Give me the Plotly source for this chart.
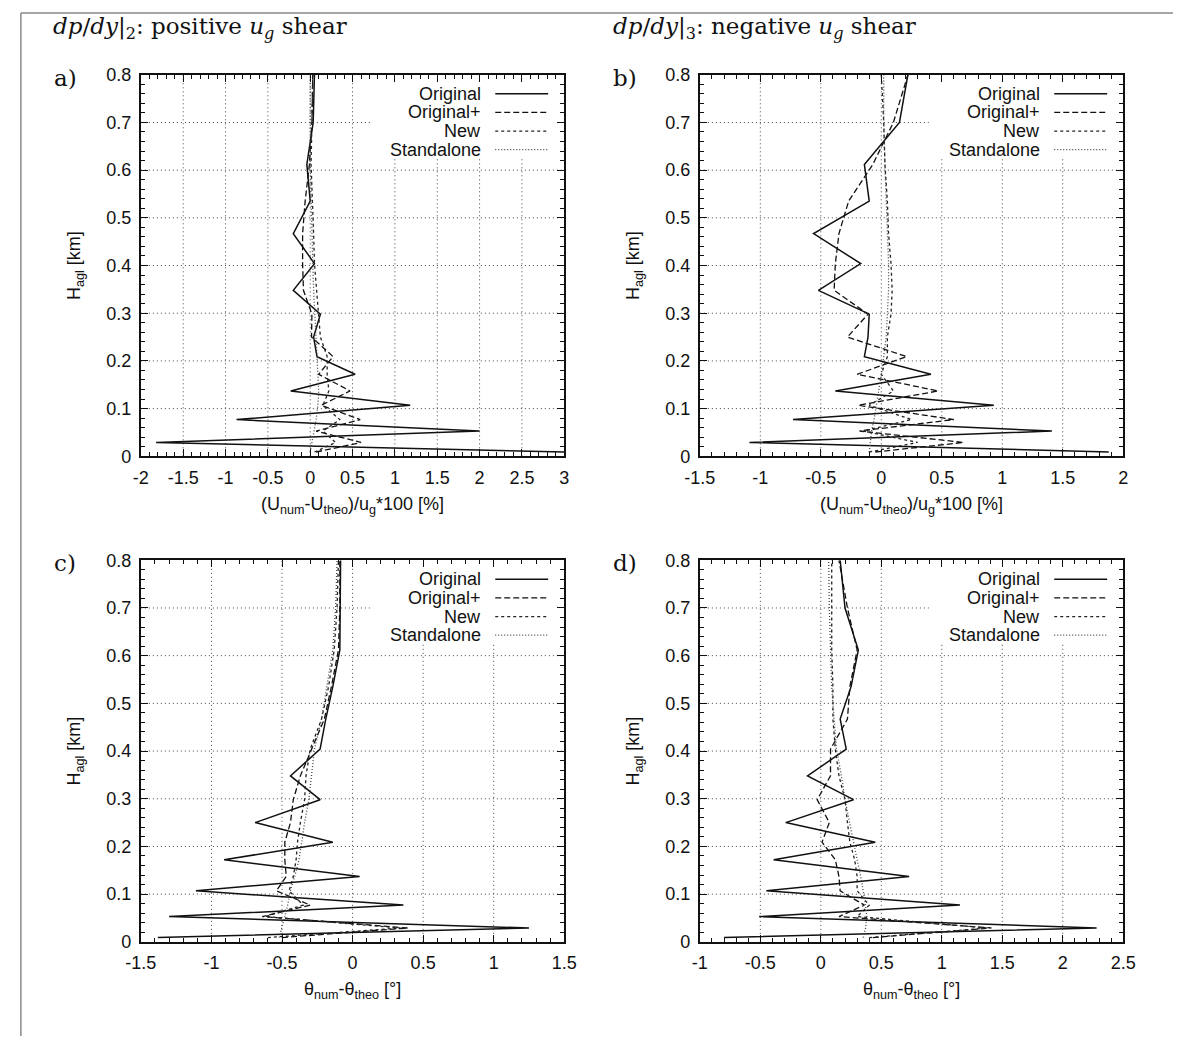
import plotly.graph_objects as go

# ---------------- data ----------------
heights = [0.009, 0.029, 0.053, 0.077, 0.107, 0.137, 0.172, 0.209, 0.25, 0.298,
           0.348, 0.404, 0.467, 0.535, 0.612, 0.70, 0.80]

series_names = ["Original", "Original+", "New", "Standalone"]

# panel a: dp/dy|2, wind error (%)
a_original = [3.0, -1.82, 2.0, -0.87, 1.18, -0.23, 0.53, 0.08, 0.04, 0.12, -0.2, 0.05, -0.2, 0.0, -0.04, 0.035, 0.05]
a_origplus = [0.07, 0.6, 0.07, 0.59, 0.13, 0.47, 0.1, 0.27, 0.015, 0.02, -0.08, -0.09, -0.09, -0.06, -0.01, 0.02, 0.03]
a_new = [0.05, 0.3, 0.15, 0.35, 0.15, 0.22, 0.2, 0.2, 0.12, 0.1, 0.08, 0.05, 0.04, 0.03, 0.01, 0.02, 0.03]
a_standalone = [0.0, 0.02, 0.04, 0.07, 0.09, 0.1, 0.09, 0.08, 0.06, 0.05, 0.04, 0.03, 0.02, 0.01, 0.0, 0.0, 0.0]

# panel b: dp/dy|3, wind error (%)
b_original = [1.88, -1.09, 1.41, -0.73, 0.93, -0.38, 0.41, -0.14, -0.11, -0.1, -0.52, -0.17, -0.56, -0.1, -0.14, 0.15, 0.22]
b_origplus = [-0.05, 0.68, -0.18, 0.6, -0.19, 0.47, -0.2, 0.21, -0.28, -0.11, -0.39, -0.38, -0.35, -0.27, -0.07, 0.1, 0.22]
b_new = [-0.1, 0.3, -0.15, 0.25, -0.1, 0.1, 0.0, 0.05, 0.05, 0.08, 0.09, 0.08, 0.06, 0.05, 0.03, 0.02, 0.0]
b_standalone = [-0.1, -0.09, -0.08, -0.06, -0.04, -0.02, 0.0, 0.02, 0.04, 0.05, 0.06, 0.06, 0.05, 0.04, 0.03, 0.02, 0.02]

# panel c: dp/dy|2, potential temperature error (deg)
c_original = [-1.38, 1.25, -1.3, 0.36, -1.11, 0.05, -0.91, -0.14, -0.69, -0.23, -0.44, -0.23, -0.19, -0.14, -0.09, -0.09, -0.085]
c_origplus = [-0.5, 0.39, -0.64, -0.3, -0.54, -0.47, -0.48, -0.48, -0.44, -0.42, -0.37, -0.29, -0.2, -0.15, -0.1, -0.09, -0.09]
c_new = [-0.6, 0.34, -0.62, -0.35, -0.45, -0.42, -0.4, -0.39, -0.37, -0.34, -0.33, -0.3, -0.22, -0.17, -0.13, -0.11, -0.1]
c_standalone = [-0.52, -0.5, -0.48, -0.46, -0.44, -0.41, -0.38, -0.36, -0.34, -0.31, -0.29, -0.27, -0.22, -0.18, -0.14, -0.12, -0.11]

# panel d: dp/dy|3, potential temperature error (deg)
d_original = [-0.8, 2.28, -0.51, 1.15, -0.45, 0.73, -0.39, 0.45, -0.29, 0.27, -0.11, 0.21, 0.16, 0.25, 0.31, 0.2, 0.16]
d_origplus = [0.43, 1.41, 0.15, 0.36, 0.16, 0.15, 0.12, 0.01, 0.07, -0.03, 0.08, 0.08, 0.22, 0.24, 0.3, 0.22, 0.15]
d_new = [0.4, 1.38, 0.3, 0.4, 0.3, 0.3, 0.28, 0.24, 0.22, 0.2, 0.15, 0.12, 0.1, 0.1, 0.09, 0.09, 0.09]
d_standalone = [0.35, 0.37, 0.38, 0.37, 0.35, 0.33, 0.3, 0.27, 0.24, 0.2, 0.17, 0.13, 0.11, 0.09, 0.08, 0.07, 0.065]

# tick labels
a_xticks = [-2, -1.5, -1, -0.5, 0, 0.5, 1, 1.5, 2, 2.5, 3]
a_xticktext = ["-2", "-1.5", "-1", "-0.5", "0", "0.5", "1", "1.5", "2", "2.5", "3"]
b_xticks = [-1.5, -1, -0.5, 0, 0.5, 1, 1.5, 2]
b_xticktext = ["-1.5", "-1", "-0.5", "0", "0.5", "1", "1.5", "2"]
c_xticks = [-1.5, -1, -0.5, 0, 0.5, 1, 1.5]
c_xticktext = ["-1.5", "-1", "-0.5", "0", "0.5", "1", "1.5"]
d_xticks = [-1, -0.5, 0, 0.5, 1, 1.5, 2, 2.5]
d_xticktext = ["-1", "-0.5", "0", "0.5", "1", "1.5", "2", "2.5"]
yticks = [0, 0.1, 0.2, 0.3, 0.4, 0.5, 0.6, 0.7, 0.8]
yticktext = ["0", "0.1", "0.2", "0.3", "0.4", "0.5", "0.6", "0.7", "0.8"]

titles = ["<i>dp</i>/<i>dy</i>|<sub>2</sub>: positive <i>u<sub>g</sub></i> shear",
          "<i>dp</i>/<i>dy</i>|<sub>3</sub>: negative <i>u<sub>g</sub></i> shear"]
panel_letters = ["a)", "b)", "c)", "d)"]
ylabel = "H<sub>agl</sub> [km]"
xlabel_wind = "(U<sub>num</sub>-U<sub>theo</sub>)/u<sub>g</sub>*100 [%]"
xlabel_theta = "θ<sub>num</sub>-θ<sub>theo</sub> [°]"

# ---------------- layout geometry (page pixels) ----------------
W, H = 1186, 1046


def px(X):
    return X / W


def py(Y):
    return 1 - Y / H


col_px = [(128, 562), (701, 1135)]
row_px = [(66, 455), (561, 950)]

styles = [
    dict(color="#111111", width=1.5, dash="solid"),
    dict(color="#111111", width=1.3, dash="6px,3px"),
    dict(color="#222222", width=1.3, dash="3px,3px"),
    dict(color="#444444", width=1.3, dash="1px,2px"),
]

panels = [
    dict(data=[a_original, a_origplus, a_new, a_standalone], xr=[-2, 3], xt=a_xticks, xtt=a_xticktext, r=0, c=0, xl=xlabel_wind),
    dict(data=[b_original, b_origplus, b_new, b_standalone], xr=[-1.5, 2], xt=b_xticks, xtt=b_xticktext, r=0, c=1, xl=xlabel_wind),
    dict(data=[c_original, c_origplus, c_new, c_standalone], xr=[-1.5, 1.5], xt=c_xticks, xtt=c_xticktext, r=1, c=0, xl=xlabel_theta),
    dict(data=[d_original, d_origplus, d_new, d_standalone], xr=[-1, 2.5], xt=d_xticks, xtt=d_xticktext, r=1, c=1, xl=xlabel_theta),
]

sans = "Liberation Sans, Arial, sans-serif"
tickfont = dict(family=sans, size=18, color="#111111")
serif_title = dict(family="DejaVu Serif, serif", size=23, color="#111111")
serif_letter = dict(family="DejaVu Serif, serif", size=23, color="#111111")
grid_line = dict(color="#444444", width=1, dash="1px,3px")

fig = go.Figure()
layout = dict(width=W, height=H, margin=dict(l=0, r=0, t=0, b=0),
              paper_bgcolor="white", plot_bgcolor="white", showlegend=False)
shapes, annotations = [], []

for i, p in enumerate(panels):
    n = i + 1
    sx = "" if n == 1 else str(n)
    x0, x1 = col_px[p["c"]]
    y0, y1 = row_px[p["r"]]
    common = dict(showline=True, linecolor="#111111", linewidth=2, mirror="allticks",
                  ticks="inside", ticklen=7, tickwidth=1, tickcolor="#111111",
                  showgrid=False, zeroline=False, tickfont=tickfont, ticklabelstandoff=4)
    layout["xaxis" + sx] = dict(common, domain=[px(x0), px(x1)], range=p["xr"], anchor="y" + sx,
                                tickmode="array", tickvals=p["xt"], ticktext=p["xtt"],
                                minor=dict(dtick=0.1, ticks="inside", ticklen=4, tickcolor="#111111", showgrid=False))
    layout["yaxis" + sx] = dict(common, domain=[py(y1), py(y0)], range=[0, 0.8], anchor="x" + sx,
                                tickmode="array", tickvals=yticks, ticktext=yticktext,
                                minor=dict(dtick=0.02, ticks="inside", ticklen=4, tickcolor="#111111", showgrid=False))
    for name, vals, st in zip(series_names, p["data"], styles):
        fig.add_trace(go.Scatter(x=vals, y=heights, mode="lines", name=name, line=st,
                                 xaxis="x" + sx, yaxis="y" + sx))
    xd, yd = "x" + sx + " domain", "y" + sx + " domain"
    # dotted grid at the major ticks (drawn below the traces)
    for tv in p["xt"][1:-1]:
        shapes.append(dict(type="line", xref="x" + sx, yref=yd, x0=tv, x1=tv, y0=0, y1=1,
                           line=grid_line, layer="below"))
    for tv in yticks[1:-1]:
        shapes.append(dict(type="line", xref=xd, yref="y" + sx, x0=0, x1=1, y0=tv, y1=tv,
                           line=grid_line, layer="below"))
    # legend background box hides the grid
    shapes.append(dict(type="rect", xref=xd, yref=yd, x0=0.541, x1=1.0, y0=0.784, y1=1.0,
                       fillcolor="white", line=dict(width=0), layer="below"))
    for k, (name, st) in enumerate(zip(series_names, styles)):
        yy = 0.950 - k * 0.0488
        annotations.append(dict(text=name, xref=xd, yref=yd, x=0.809, y=yy, xanchor="right",
                                yanchor="middle", showarrow=False,
                                font=dict(family=sans, size=18, color="#111111")))
        shapes.append(dict(type="line", xref=xd, yref=yd, x0=0.837, x1=0.962, y0=yy, y1=yy,
                           line=st, layer="above"))
    # panel letter
    annotations.append(dict(text=panel_letters[i], xref="paper", yref="paper",
                            x=px(37 if p["c"] == 0 else 610), y=py(y0 + 3),
                            xanchor="left", yanchor="middle", showarrow=False, font=serif_letter))
    # axis titles
    annotations.append(dict(text=ylabel, xref="paper", yref="paper", x=px(x0 - 67),
                            y=py((y0 + y1) / 2), textangle=-90, xanchor="center",
                            yanchor="middle", showarrow=False, font=tickfont))
    annotations.append(dict(text=p["xl"], xref="paper", yref="paper", x=px((x0 + x1) / 2),
                            y=py(y1 + 50), xanchor="center", yanchor="middle",
                            showarrow=False, font=tickfont))

for j, t in enumerate(titles):
    annotations.append(dict(text=t, xref="paper", yref="paper", x=px(36 if j == 0 else 610),
                            y=py(18), xanchor="left", yanchor="middle", showarrow=False, font=serif_title))

# figure frame (top and left edges)
shapes.append(dict(type="line", xref="paper", yref="paper", x0=px(5), x1=1, y0=py(3), y1=py(3),
                   line=dict(color="#888888", width=1.5), layer="above"))
shapes.append(dict(type="line", xref="paper", yref="paper", x0=px(5), x1=px(5), y0=0, y1=py(3),
                   line=dict(color="#888888", width=1.5), layer="above"))

layout["shapes"] = shapes
layout["annotations"] = annotations
fig.update_layout(**layout)
# remove the default page margin so that figure pixels coincide with page pixels
fig.write_html("out.html", config={"displayModeBar": False},
               post_script="document.body.style.margin='0px';")
